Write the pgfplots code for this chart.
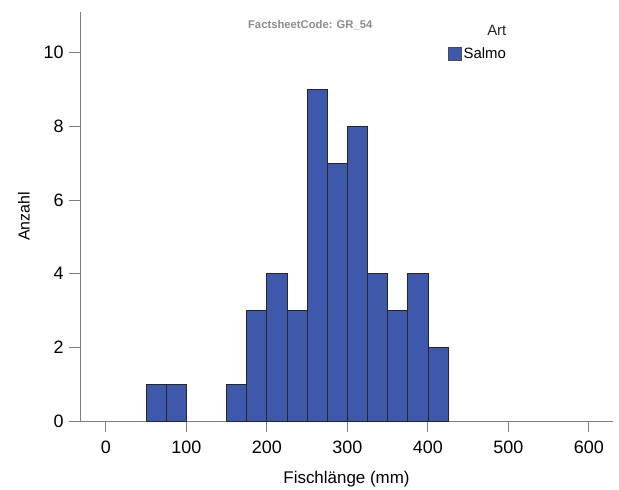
\documentclass[border=0pt]{standalone}
\usepackage{pgfplots}
\pgfplotsset{compat=1.18}
\usepackage{fontspec}
\setmainfont{Liberation Sans}
\definecolor{barblue}{HTML}{3E58AC}
\definecolor{axgray}{HTML}{7F7F7F}
\begin{document}
\begin{tikzpicture}
\useasboundingbox (-80bp,-69bp) rectangle (539bp,421bp);
\begin{axis}[
  scale only axis,
  width=533bp, height=409bp,
  xmin=-32, xmax=630, ymin=0, ymax=11.1,
  axis x line*=bottom, axis y line*=left,
  axis line style={axgray, line width=0.8pt, -},
  xtick={0,100,...,600}, ytick={0,2,...,10},
  tick align=outside,
  major tick length=11bp,
  tick style={axgray, line width=0.8pt},
  /pgf/number format/assume math mode=true,
  ticklabel style={font=\fontsize{18}{20}\selectfont},
  xticklabel style={yshift=-5bp},
  yticklabel style={xshift=-2bp},
  xlabel={Fischlänge (mm)},
  ylabel={Anzahl},
  xlabel style={font=\fontsize{17}{20}\selectfont, yshift=-11bp},
  ylabel style={font=\fontsize{16}{18}\selectfont, yshift=7bp},
  legend style={at={(rel axis cs:0.69,0.917)}, anchor=north west, draw=none, fill=none,
    inner sep=0pt, font=\fontsize{15}{18}\selectfont},
  legend image code/.code={\draw[draw=black!70, fill=barblue, line width=0.6pt] (0bp,-6.5bp) rectangle (13bp,6.5bp);},
  clip=false,
]
\addplot[ybar interval, fill=barblue, draw=black!85, line width=0.6pt] coordinates {
(50,1) (75,1) (100,1)
};
\addlegendentry{Salmo}
\addplot[ybar interval, fill=barblue, draw=black!85, line width=0.6pt, forget plot] coordinates {
(150,1) (175,3) (200,4) (225,3) (250,9) (275,7) (300,8) (325,4) (350,3) (375,4) (400,2) (425,2)
};
\node[font=\fontsize{15}{18}\selectfont, text=black!85] at (rel axis cs:0.782,0.956) {Art};
\node[font=\bfseries\fontsize{11.3}{13}\selectfont, text=black!45] at (rel axis cs:0.432,0.969) {FactsheetCode: GR\_54};
\end{axis}
\end{tikzpicture}
\end{document}
